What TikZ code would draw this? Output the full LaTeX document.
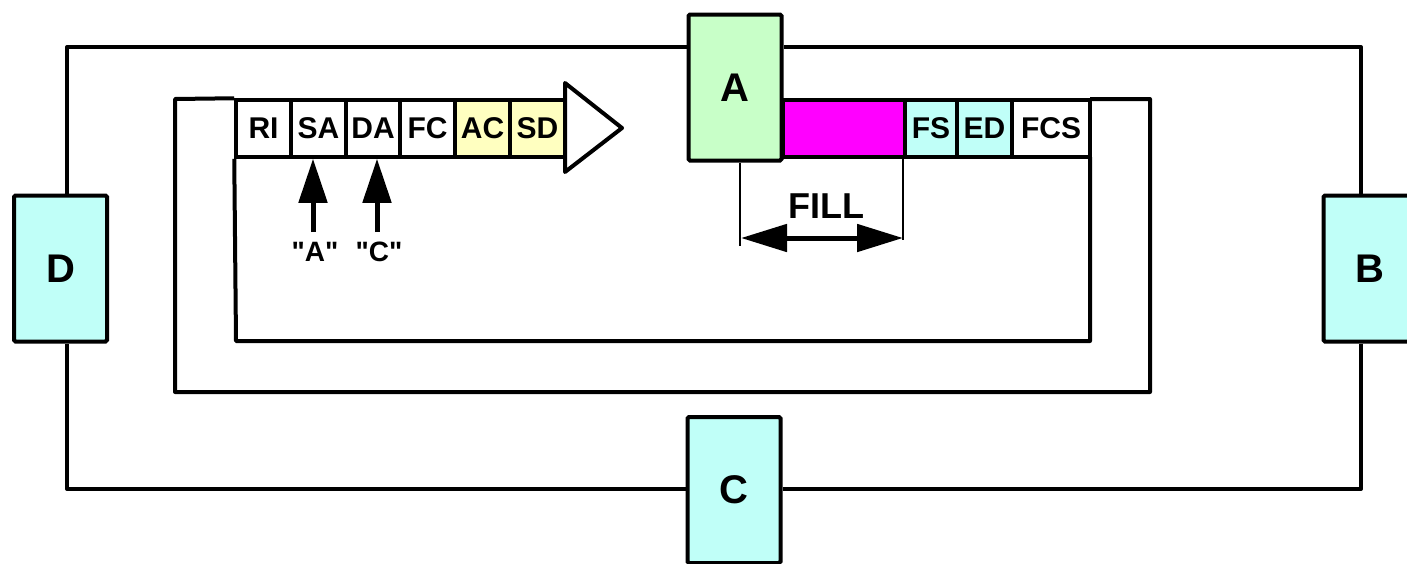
\documentclass[tikz,border=0pt]{standalone}
\usepackage{fontspec}
\setmainfont{Liberation Sans}
\usetikzlibrary{arrows.meta}
\definecolor{cyanf}{RGB}{192,255,248}
\definecolor{greenf}{RGB}{200,255,200}
\definecolor{yellowf}{RGB}{255,255,192}
\definecolor{magf}{RGB}{255,0,255}
\tikzset{
  station/.style={draw, line width=4pt, rounded corners=1.5pt, minimum width=93pt, minimum height=146pt, inner sep=0pt, font=\fontsize{40}{40}\selectfont\bfseries},
  field/.style={draw, line width=3.5pt, minimum height=57pt, inner sep=0pt, font=\fontsize{30}{30}\selectfont\bfseries},
  ring/.style={line width=4pt, line join=round},
  uparr/.style={line width=5pt, -{Triangle[length=44pt,width=28pt]}},
  dimarr/.style={line width=5pt, {Triangle[length=46pt,width=27pt]}-{Triangle[length=46pt,width=27pt]}},
  thin/.style={line width=1.5pt},
  lbl/.style={inner sep=0pt, font=\fontsize{28}{28}\selectfont\bfseries},
}
\begin{document}
\begin{tikzpicture}[x=1pt,y=-1pt]
\useasboundingbox (0,0) rectangle (1407,563);
% ring corners
\coordinate (oTL) at (67,47);
\coordinate (oTR) at (1361,47);
\coordinate (oBR) at (1361,489);
\coordinate (oBL) at (67,489);
\coordinate (mTL) at (175,99);
\coordinate (mTR) at (1150,99);
\coordinate (mBR) at (1150,392);
\coordinate (mBL) at (175,392);
\coordinate (iBL) at (236,341);
\coordinate (iBR) at (1090,341);
% frame fields (left)
\node[field, minimum width=55pt] (RI) at (263.5,128.5) {RI};
\node[field, minimum width=55pt] (SA) at (318.5,128.5) {SA};
\node[field, minimum width=54pt] (DA) at (373,128.5) {DA};
\node[field, minimum width=55pt] (FC) at (427.5,128.5) {FC};
\node[field, minimum width=55pt, fill=yellowf] (AC) at (482.5,128.5) {AC};
\node[field, minimum width=55pt, fill=yellowf] (SD) at (537.5,128.5) {SD};
\coordinate (hT) at (565,83);
\coordinate (hB) at (565,172);
\coordinate (hTip) at (622,128);
\draw[ring, fill=white] (hT) -- (hTip) -- (hB) -- cycle;
% rings
\draw[ring] (RI.north west) -- (mTL) -- (mBL) -- (mBR) -- (mTR) -- (1090,99);
\draw[ring] (RI.south west) -- (iBL) -- (iBR) -- (1090,157);
% frame fields (right)
\node[field, minimum width=122pt, fill=magf] (FILLB) at (844,128.5) {};
\node[field, minimum width=52pt, fill=cyanf] (FS) at (931,128.5) {FS};
\node[field, minimum width=55pt, fill=cyanf] (ED) at (984.5,128.5) {ED};
\node[field, minimum width=78pt] (FCS) at (1051,128.5) {FCS};
% stations
\node[station, fill=greenf] (A) at (735,87.5) {A};
\node[station, fill=cyanf] (D) at (60.5,268.5) {D};
\node[station, fill=cyanf] (B) at (1370,268.5) {B};
\node[station, fill=cyanf] (C) at (734,490) {C};
% outer ring
\draw[ring] (oTL |- D.north) -- (oTL) -- (oTL -| A.west);
\draw[ring] (oTR -| A.east) -- (oTR) -- (oTR |- B.north);
\draw[ring] (oTR |- B.south) -- (oBR) -- (oBR -| C.east);
\draw[ring] (oBL -| C.west) -- (oBL) -- (oBL |- D.south);
% address arrows
\coordinate (qA) at (313,232);
\coordinate (qC) at (377,232);
\draw[uparr] (qA) -- (qA |- SA.south);
\draw[uparr] (qC) -- (qC |- DA.south);
\node[lbl] (labA) at (315,252) {\textquotedbl A\textquotedbl};
\node[lbl] (labC) at (379,252) {\textquotedbl C\textquotedbl};
% FILL dimension
\coordinate (fL) at (740,246);
\coordinate (fR) at (903,240);
\draw[thin] (fL |- A.south) -- (fL);
\draw[thin] (fR |- FILLB.south) -- (fR);
\draw[dimarr] (741,238) -- (903,238);
\node[inner sep=0pt, font=\fontsize{36}{36}\selectfont\bfseries] (fill) at (826,206) {FILL};
\end{tikzpicture}
\end{document}
